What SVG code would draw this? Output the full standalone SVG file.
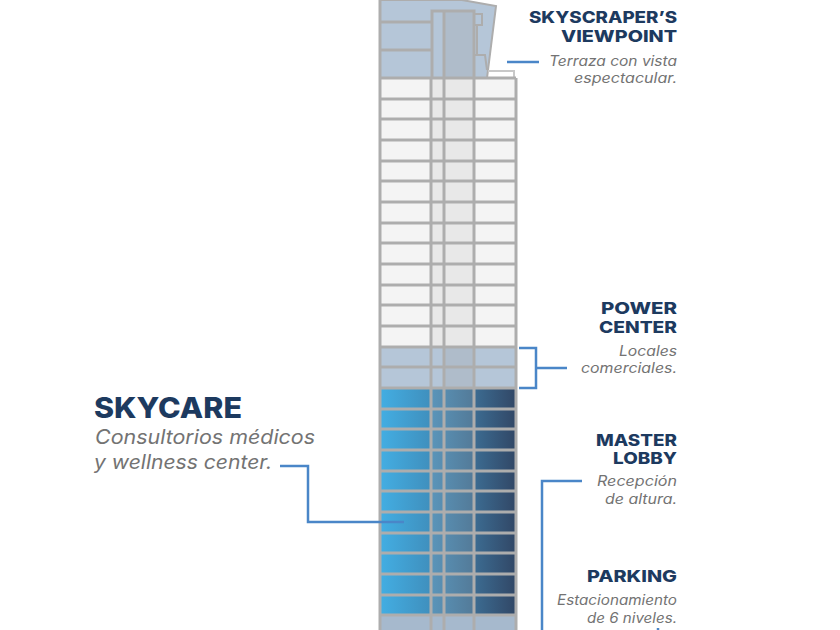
<svg xmlns="http://www.w3.org/2000/svg" width="840" height="630" viewBox="0 0 840 630">
<style>
.h{font-family:Inter,"Liberation Sans",sans-serif;font-weight:800;fill:#1d3a5f;font-size:16px;text-anchor:end}
.d{font-family:Inter,"Liberation Sans",sans-serif;font-style:italic;fill:#737373;font-size:14px;text-anchor:end}
.g{fill:none;stroke:#adadad;stroke-width:3}
.c{fill:none;stroke:#4a86c8;stroke-width:2.5}
</style>
<defs>
<linearGradient id="b1" x1="380" x2="431" y1="0" y2="0" gradientUnits="userSpaceOnUse">
<stop offset="0" stop-color="#43aee3"/><stop offset="1" stop-color="#3f8fbd"/>
</linearGradient>
<linearGradient id="b2" x1="431" x2="474" y1="0" y2="0" gradientUnits="userSpaceOnUse">
<stop offset="0" stop-color="#5a95ba"/><stop offset="1" stop-color="#537a98"/>
</linearGradient>
<linearGradient id="b3" x1="474" x2="516" y1="0" y2="0" gradientUnits="userSpaceOnUse">
<stop offset="0" stop-color="#3c6c92"/><stop offset="1" stop-color="#314766"/>
</linearGradient>
</defs>
<rect width="840" height="630" fill="#fff"/>
<g id="tower">
<polygon points="380,0 462,0 496,6 487,78 380,78" fill="#b5c6d8" stroke="#adadad" stroke-width="2"/>
<rect x="443" y="11" width="31" height="67" fill="#afbcca"/>
<path class="g" d="M380 22H432M380 50H432M432 78V11H474V78M444 11V78"/>
<path d="M474 14H482V25H474M477 25V55M474 55H485L487 70" fill="none" stroke="#adadad" stroke-width="2"/>
<path d="M488 71H514V78" fill="none" stroke="#c8c8c8" stroke-width="2"/>
<rect x="380" y="78" width="136" height="269" fill="#f4f4f4"/>
<rect x="431" y="78" width="43" height="269" fill="#e8e8e8"/>
<rect x="380" y="347" width="136" height="41" fill="#b5c6d8"/>
<rect x="443" y="347" width="31" height="41" fill="#afbcca"/>
<rect x="380" y="388" width="51" height="227" fill="url(#b1)"/>
<rect x="431" y="388" width="43" height="227" fill="url(#b2)"/>
<rect x="474" y="388" width="42" height="227" fill="url(#b3)"/>
<rect x="380" y="615" width="136" height="15" fill="#a6b9cd"/>
<path class="g" d="M380 0V630M516 78V630M431 78V630M444 78V630M474 78V630"/>
<path class="g" d="M380 78H516M380 99H516M380 119H516M380 140H516M380 161H516M380 181H516M380 202H516M380 223H516M380 243H516M380 264H516M380 285H516M380 305H516M380 326H516M380 347H516M380 367H516M380 388H516M380 409H516M380 429H516M380 450H516M380 471H516M380 491H516M380 512H516M380 533H516M380 553H516M380 574H516M380 595H516M380 615H516"/>
</g>
<g id="connectors">
<path class="c" d="M507 62H539"/>
<path class="c" d="M519 348H536V388H519M536 368H567"/>
<path class="c" d="M280 466H308V522H404"/>
<path class="c" d="M582 481H542V630"/>
<path class="c" d="M658 628V630"/>
</g>
<g id="viewpoint">
<text class="h" x="677" y="23" textLength="148" lengthAdjust="spacingAndGlyphs">SKYSCRAPER’S</text>
<text class="h" x="677" y="42" textLength="116" lengthAdjust="spacingAndGlyphs">VIEWPOINT</text>
<text class="d" x="677" y="66" textLength="128" lengthAdjust="spacingAndGlyphs">Terraza con vista</text>
<text class="d" x="677" y="83" textLength="103" lengthAdjust="spacingAndGlyphs">espectacular.</text>
</g>
<g id="power-center">
<text class="h" x="677" y="314" textLength="76" lengthAdjust="spacingAndGlyphs">POWER</text>
<text class="h" x="677" y="333" textLength="78" lengthAdjust="spacingAndGlyphs">CENTER</text>
<text class="d" x="677" y="356" textLength="58" lengthAdjust="spacingAndGlyphs">Locales</text>
<text class="d" x="677" y="373" textLength="96" lengthAdjust="spacingAndGlyphs">comerciales.</text>
</g>
<g id="skycare">
<text x="94" y="418" font-family="Inter,'Liberation Sans',sans-serif" font-weight="800" font-size="28" fill="#1d3a5f" textLength="148" lengthAdjust="spacingAndGlyphs">SKYCARE</text>
<text x="95" y="444" font-family="Inter,'Liberation Sans',sans-serif" font-style="italic" font-size="20" fill="#737373" textLength="220" lengthAdjust="spacingAndGlyphs">Consultorios médicos</text>
<text x="94" y="469" font-family="Inter,'Liberation Sans',sans-serif" font-style="italic" font-size="20" fill="#737373" textLength="178" lengthAdjust="spacingAndGlyphs">y wellness center.</text>
</g>
<g id="master-lobby">
<text class="h" x="677" y="446" textLength="81" lengthAdjust="spacingAndGlyphs">MASTER</text>
<text class="h" x="677" y="464" textLength="64" lengthAdjust="spacingAndGlyphs">LOBBY</text>
<text class="d" x="677" y="486" textLength="80" lengthAdjust="spacingAndGlyphs">Recepción</text>
<text class="d" x="677" y="504" textLength="72" lengthAdjust="spacingAndGlyphs">de altura.</text>
</g>
<g id="parking">
<text class="h" x="677" y="582" textLength="90" lengthAdjust="spacingAndGlyphs">PARKING</text>
<text class="d" x="677" y="605" textLength="120" lengthAdjust="spacingAndGlyphs">Estacionamiento</text>
<text class="d" x="677" y="623" textLength="90" lengthAdjust="spacingAndGlyphs">de 6 niveles.</text>
</g>
</svg>
